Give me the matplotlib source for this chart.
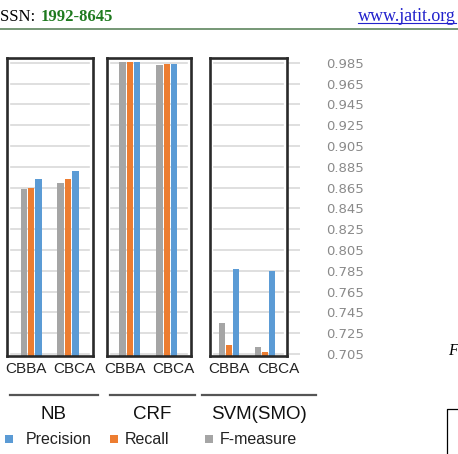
import matplotlib
matplotlib.use("Agg")
import matplotlib.pyplot as plt
from matplotlib.patches import Rectangle
from matplotlib.lines import Line2D

# ---------------- data ----------------
classifiers = ["NB", "CRF", "SVM(SMO)"]
approaches = ["CBBA", "CBCA"]
series_names = ["Precision", "Recall", "F-measure"]
precision = [[0.873, 0.881], [0.9855, 0.984], [0.787, 0.785]]
recall = [[0.865, 0.873], [0.9855, 0.984], [0.714, 0.707]]
f_measure = [[0.864, 0.869], [0.9855, 0.983], [0.735, 0.712]]
y_ticks = [0.705, 0.725, 0.745, 0.765, 0.785, 0.805, 0.825, 0.845,
           0.865, 0.885, 0.905, 0.925, 0.945, 0.965, 0.985]
y_tick_labels = ["0.705", "0.725", "0.745", "0.765", "0.785", "0.805", "0.825",
                 "0.845", "0.865", "0.885", "0.905", "0.925", "0.945", "0.965", "0.985"]

# ---------------- style / layout ----------------
W, H, DPI = 458, 454, 100
Y_MIN, Y_MAX = 0.70308, 0.98952
C_PREC, C_REC, C_F = "#5B9BD5", "#ED7D31", "#A5A5A5"
GRID = "#d9d9d9"
panel_px = [(7, 58, 93, 356), (107, 58, 191, 356), (210, 58, 287, 356)]
panel_xlim = [(-0.65, 1.675), (-0.62, 1.65), (-0.53, 1.61)]
label_px = [(26, 74.5), (125, 173.5), (229, 278.5)]   # category label centres
BAR_W, OFF = 0.17, 0.2


def rect(x0, y0, x1, y1):
    return [x0 / W, 1 - y1 / H, (x1 - x0) / W, (y1 - y0) / H]


def fx(x):
    return x / W


def fy(y):
    return 1 - y / H


fig = plt.figure(figsize=(W / DPI, H / DPI), dpi=DPI)
fig.patch.set_facecolor("white")

# stub axis carrying the value labels on the right
stub = fig.add_axes(rect(287, 58, 300, 356))
stub.set_ylim(Y_MIN, Y_MAX)
stub.set_xlim(0, 1)
for s in stub.spines.values():
    s.set_visible(False)
stub.set_xticks([])
stub.yaxis.tick_right()
stub.set_yticks(y_ticks)
stub.set_yticklabels(y_tick_labels, fontsize=9.5, color="#8a8a8a",
                     family="DejaVu Sans")
stub.tick_params(axis="y", length=0, pad=19)
for t in y_ticks:
    stub.axhline(t, color=GRID, lw=1.2, zorder=0)

for i, name in enumerate(classifiers):
    ax = fig.add_axes(rect(*panel_px[i]))
    ax.set_zorder(2)
    ax.set_ylim(Y_MIN, Y_MAX)
    ax.set_xlim(*panel_xlim[i])
    for t in y_ticks:
        ax.axhline(t, xmin=0.05, xmax=0.95, color=GRID, lw=1.2, zorder=0)
    xs = list(range(len(approaches)))
    ax.bar([x - OFF for x in xs], [v - Y_MIN for v in f_measure[i]], BAR_W,
           bottom=Y_MIN, color=C_F, zorder=2)
    ax.bar(xs, [v - Y_MIN for v in recall[i]], BAR_W,
           bottom=Y_MIN, color=C_REC, zorder=2)
    ax.bar([x + OFF for x in xs], [v - Y_MIN for v in precision[i]], BAR_W,
           bottom=Y_MIN, color=C_PREC, zorder=2)
    ax.set_yticks([])
    ax.set_xticks([])
    for s in ax.spines.values():
        s.set_color("#2a2a2a")
        s.set_linewidth(1.9)
    for cx, lab in zip(label_px[i], approaches):
        fig.text(fx(cx), fy(373), lab, ha="center", va="baseline",
                 fontsize=11, family="Liberation Sans", color="#222222")

# group lines and labels
group_lines = [(10, 98), (110, 195), (202, 316)]
for (x0, x1), name in zip(group_lines, classifiers):
    fig.add_artist(Line2D([fx(x0), fx(x1)], [fy(395), fy(395)],
                          transform=fig.transFigure, color="#555555", lw=1.6))
    fig.text(fx((x0 + x1) / 2), fy(419), name, ha="center", va="baseline",
             fontsize=13.5, family="Liberation Sans", color="#111111")

# legend
legend_items = [(5, 26, C_PREC), (110, 125, C_REC), (205, 220, C_F)]
for (sx, tx, col), label in zip(legend_items, series_names):
    fig.add_artist(Rectangle((fx(sx), fy(443)), 8 / W, 8 / H,
                             transform=fig.transFigure, color=col, lw=0))
    fig.text(fx(tx), fy(444), label, ha="left", va="baseline",
             fontsize=11.5, family="Liberation Sans", color="#222222")

# page header
fig.text(fx(0), fy(21), "SSN: ", ha="left", va="baseline", fontsize=12,
         family="Liberation Serif", color="black")
fig.text(fx(41), fy(21), "1992-8645", ha="left", va="baseline", fontsize=12,
         family="Liberation Serif", weight="bold", color="#1f7a1f")
url = fig.text(fx(456), fy(21), "www.jatit.org", ha="right", va="baseline",
               fontsize=13, family="Liberation Serif", color="#2222cc")
fig.canvas.draw()
bb = url.get_window_extent()
fig.add_artist(Line2D([bb.x0 / W, bb.x1 / W], [fy(23), fy(23)],
                      transform=fig.transFigure, color="#2222cc", lw=0.8))
fig.add_artist(Line2D([0, 1], [fy(28.5), fy(28.5)],
                      transform=fig.transFigure, color="#6a8f6a", lw=1.3))

# cut-off neighbouring content on the right edge
fig.text(fx(448), fy(355), "F", ha="left", va="baseline", fontsize=11.5,
         family="Liberation Serif", style="italic", color="black")
fig.add_artist(Line2D([fx(447), fx(447), fx(460)], [0, fy(409), fy(409)],
                      transform=fig.transFigure, color="black", lw=0.9))

fig.savefig("out.png", dpi=DPI, facecolor="white")
